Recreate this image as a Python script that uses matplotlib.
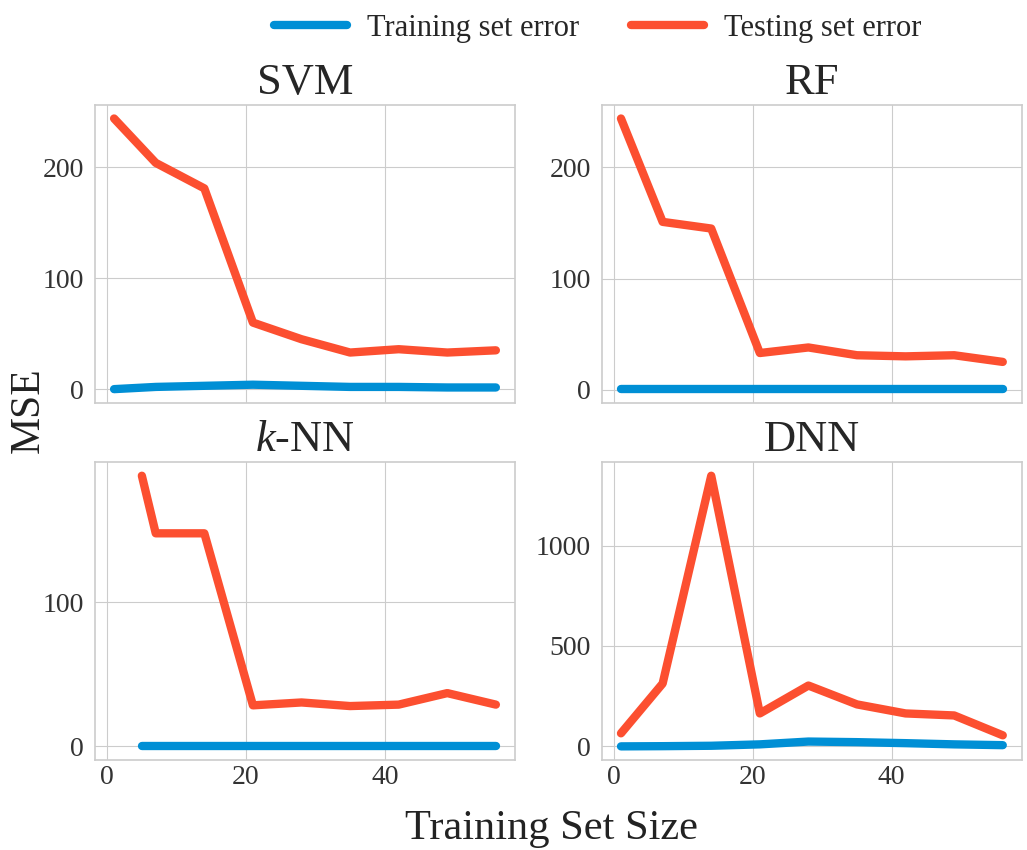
"""Learning curves (train vs test MSE) for SVM, RF, k-NN and DNN."""

import matplotlib
matplotlib.use("Agg")
import matplotlib.pyplot as plt

plt.style.use("seaborn-v0_8-whitegrid")
plt.rcParams["font.family"] = ["Liberation Serif", "DejaVu Serif"]
plt.rcParams["mathtext.fontset"] = "custom"
plt.rcParams["mathtext.rm"] = "Liberation Serif"
plt.rcParams["mathtext.it"] = "Liberation Serif:italic"

TRAIN_COLOR = "#008fd5"
TEST_COLOR = "#fc4f30"

sizes = [1, 7, 14, 21, 28, 35, 42, 49, 56]
knn_sizes = [5, 7, 14, 21, 28, 35, 42, 49, 56]

svm_train = [0, 2, 3, 4, 3, 2, 2, 1.5, 1.5]
svm_test = [244, 204, 181, 60, 45, 33, 36, 33, 35]

rf_train = [0.5, 0.5, 0.5, 0.5, 0.5, 0.5, 0.5, 0.5, 0.5]
rf_test = [244, 151, 145, 33, 38, 31, 30, 31, 25]

knn_train = [0, 0, 0, 0, 0, 0, 0, 0, 0]
knn_test = [188, 148, 148, 28.5, 30.5, 28, 29, 37, 29]

dnn_train = [0, 1, 3, 10, 24, 21, 16, 10, 6]
dnn_test = [65, 313, 1348, 164, 303, 209, 164, 154, 55]

panels = [
    ("SVM", sizes, svm_train, svm_test, [0, 100, 200]),
    ("RF", sizes, rf_train, rf_test, [0, 100, 200]),
    ("$k$-NN", knn_sizes, knn_train, knn_test, [0, 100]),
    ("DNN", sizes, dnn_train, dnn_test, [0, 500, 1000]),
]

fig, axes = plt.subplots(2, 2, figsize=(10.27, 8.5), dpi=100, sharex="col")
fig.subplots_adjust(left=0.0925, right=0.995, top=0.8765, bottom=0.106,
                    wspace=0.207, hspace=0.2)

for ax, (name, x, train, test, yt) in zip(axes.flat, panels):
    ax.plot(x, train, color=TRAIN_COLOR, linewidth=6, solid_capstyle="round",
            label="Training set error")
    ax.plot(x, test, color=TEST_COLOR, linewidth=6, solid_capstyle="round",
            label="Testing set error")
    ax.set_title(name, fontsize=32, pad=8)
    ax.set_xticks([0, 20, 40])
    ax.set_yticks(yt)
    ax.tick_params(axis="both", labelsize=20, colors="#333333")
    ax.tick_params(axis="y", pad=8)
    ax.tick_params(axis="x", pad=4)
    for sp in ax.spines.values():
        sp.set_edgecolor("#cccccc")
        sp.set_linewidth(1.2)

handles, labels = axes[0, 0].get_legend_handles_labels()
fig.legend(handles, labels, loc="center", bbox_to_anchor=(0.582, 0.967),
           ncol=2, frameon=False, fontsize=22, handlelength=2.4,
           handletextpad=0.65, columnspacing=1.7)

fig.text(0.028, 0.518, "MSE", rotation=90, ha="center", va="center",
         fontsize=30, color="#222222")
fig.text(0.537, 0.025, "Training Set Size", ha="center", va="center",
         fontsize=30.5, color="#222222")

fig.savefig("out.png", dpi=100)
